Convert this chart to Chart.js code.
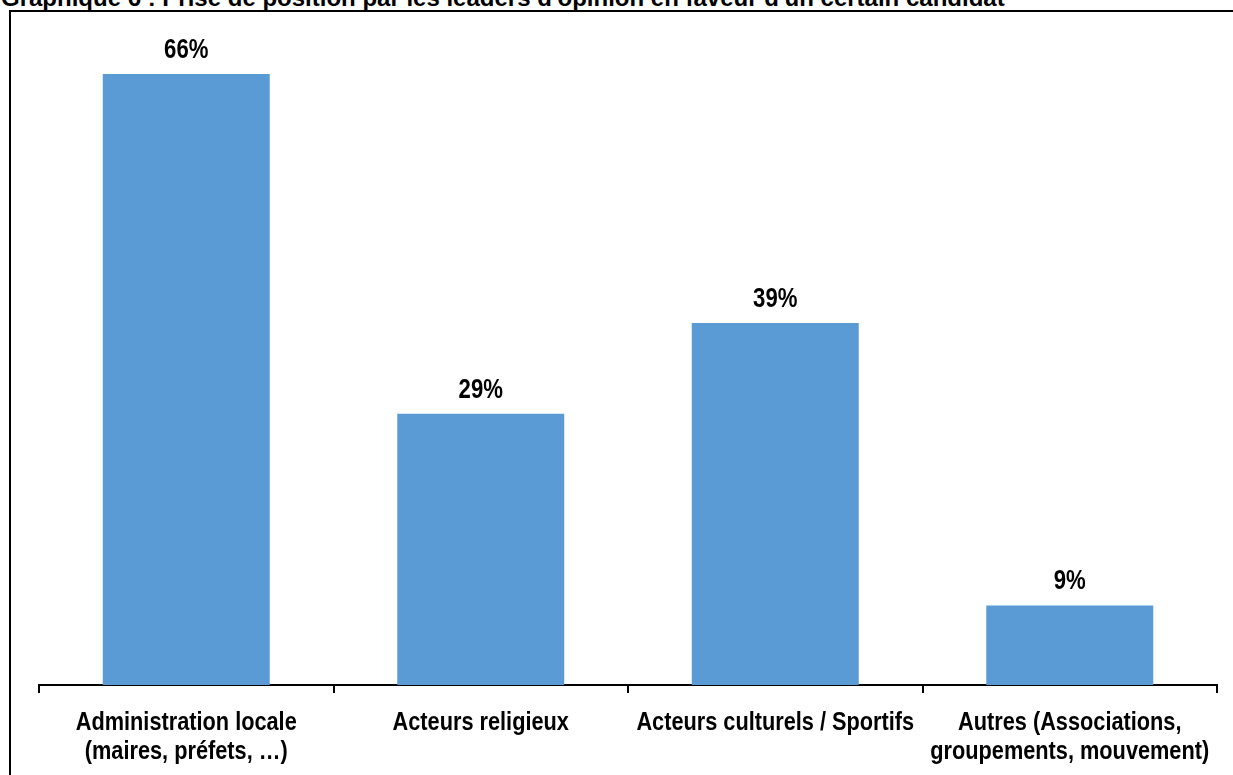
<!DOCTYPE html>
<html>
<head>
<meta charset="utf-8">
<script src="https://cdn.jsdelivr.net/npm/chart.js@4/dist/chart.umd.min.js"></script>
<style>
  html, body { margin: 0; padding: 0; background: #fff; width: 1233px; height: 775px; overflow: hidden; }
  #title { position: absolute; left: 1px; top: -14px; font-family: "Liberation Sans", Arial, sans-serif; font-weight: bold; font-size: 24px; white-space: nowrap; color: #000; line-height: 24px; }
  #frame { position: absolute; left: 9px; top: 10px; width: 1300px; height: 900px; border-left: 2px solid #000; border-top: 2px solid #000; }
  #wrap { position: absolute; left: 0; top: 0; width: 1233px; height: 775px; }
</style>
</head>
<body>
<div id="title">Graphique 6 : Prise de position par les leaders d'opinion en faveur d'un certain candidat</div>
<div id="frame"></div>
<div id="wrap"><canvas id="c" width="1233" height="775"></canvas></div>
<script>
const categories = [
  ["Administration locale", "(maires, préfets, …)"],
  ["Acteurs religieux"],
  ["Acteurs culturels / Sportifs"],
  ["Autres (Associations,", "groupements, mouvement)"]
];
const values = [66, 29.3, 39.1, 8.6];
const valueLabels = ["66%", "29%", "39%", "9%"];

const FONT = "'Liberation Sans', Arial, sans-serif";
const NARROW_SCALE = 0.82;

function narrowText(ctx, text, x, y) {
  ctx.save();
  ctx.translate(x, y);
  ctx.scale(NARROW_SCALE, 1);
  ctx.fillText(text, 0, 0);
  ctx.restore();
}

const labelPlugin = {
  id: 'narrowLabels',
  afterDraw(chart) {
    const ctx = chart.ctx;
    const meta = chart.getDatasetMeta(0);
    const xs = chart.scales.x;
    ctx.save();
    ctx.fillStyle = "#000";
    ctx.textAlign = "center";
    ctx.textBaseline = "alphabetic";
    // value labels above bars
    ctx.font = "bold 27px " + FONT;
    meta.data.forEach((bar, i) => {
      narrowText(ctx, valueLabels[i], bar.x, bar.y - 16);
    });
    // category labels
    ctx.font = "bold 26.5px " + FONT;
    const base = chart.chartArea.bottom + 45;
    categories.forEach((lines, i) => {
      const x = xs.getPixelForTick(i);
      lines.forEach((line, j) => {
        narrowText(ctx, line, x, base + j * 29);
      });
    });
    ctx.restore();
  }
};

new Chart(document.getElementById('c'), {
  type: 'bar',
  data: {
    labels: categories,
    datasets: [{
      data: values,
      backgroundColor: '#5B9BD5',
      borderWidth: 0,
      categoryPercentage: 1,
      barPercentage: 0.567
    }]
  },
  options: {
    responsive: false,
    animation: false,
    layout: { padding: { top: 37, left: 39, right: 16, bottom: 0 } },
    plugins: { legend: { display: false }, tooltip: { enabled: false } },
    scales: {
      y: { display: false, min: 0, max: 70 },
      x: {
        afterFit(scale) { scale.height = 90; },
        border: { display: true, color: '#000', width: 2 },
        grid: { display: true, drawOnChartArea: false, drawTicks: true, tickLength: 8, color: '#000', lineWidth: 2, offset: true },
        ticks: { display: false }
      }
    }
  },
  plugins: [labelPlugin]
});
</script>
</body>
</html>
